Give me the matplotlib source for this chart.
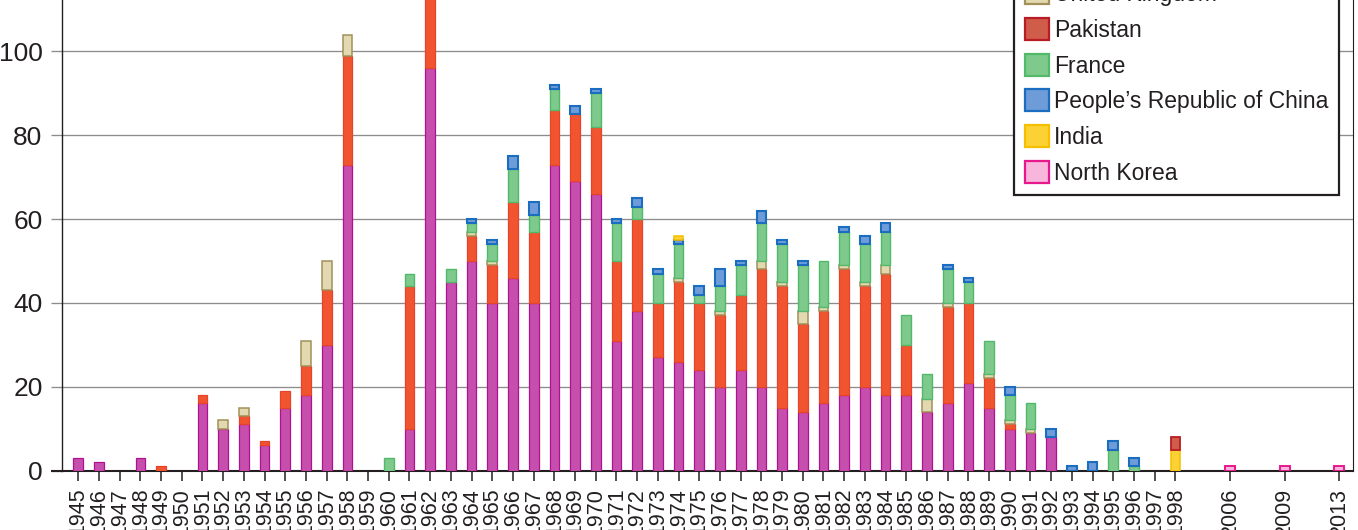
import matplotlib
matplotlib.use("Agg")
import matplotlib.pyplot as plt
from matplotlib.patches import Patch
import numpy as np

plt.rcParams['font.family'] = ['Liberation Sans', 'DejaVu Sans']

# ---- data -------------------------------------------------------------
years = list(range(1945, 1999)) + [2006, 2009, 2013]

usa = [3, 2, 0, 3, 0, 0, 16, 10, 11, 6, 15, 18, 30, 73, 0, 0, 10, 96, 45, 50,
       40, 46, 40, 73, 69, 66, 31, 38, 27, 26, 24, 20, 24, 20, 15, 14, 16, 18, 20, 18,
       18, 14, 16, 21, 15, 10, 9, 8, 0, 0, 0, 0, 0, 0, 0, 0, 0]
ussr = [0, 0, 0, 0, 1, 0, 2, 0, 2, 1, 4, 7, 13, 26, 0, 0, 34, 79, 0, 6,
        9, 18, 17, 13, 16, 16, 19, 22, 13, 19, 16, 17, 18, 28, 29, 21, 22, 30, 24, 29,
        12, 0, 23, 19, 7, 1, 0, 0, 0, 0, 0, 0, 0, 0, 0, 0, 0]
uk = [0, 0, 0, 0, 0, 0, 0, 2, 2, 0, 0, 6, 7, 5, 0, 0, 0, 2, 0, 1,
      1, 0, 0, 0, 0, 0, 0, 0, 0, 1, 0, 1, 0, 2, 1, 3, 1, 1, 1, 2,
      0, 3, 1, 0, 1, 1, 1, 0, 0, 0, 0, 0, 0, 0, 0, 0, 0]
france = [0, 0, 0, 0, 0, 0, 0, 0, 0, 0, 0, 0, 0, 0, 0, 3, 3, 0, 3, 2,
          4, 8, 4, 5, 0, 8, 9, 3, 7, 8, 2, 6, 7, 9, 9, 11, 11, 8, 9, 8,
          7, 6, 8, 5, 8, 6, 6, 0, 0, 0, 5, 1, 0, 0, 0, 0, 0]
china = [0, 0, 0, 0, 0, 0, 0, 0, 0, 0, 0, 0, 0, 0, 0, 0, 0, 0, 0, 1,
         1, 3, 3, 1, 2, 1, 1, 2, 1, 1, 2, 4, 1, 3, 1, 1, 0, 1, 2, 2,
         0, 0, 1, 1, 0, 2, 0, 2, 1, 2, 2, 2, 0, 0, 0, 0, 0]
india = [0] * 29 + [1] + [0] * 23 + [5, 0, 0, 0]
pakistan = [0] * 53 + [3, 0, 0, 0]
north_korea = [0] * 54 + [1, 1, 1]

# ---- styles -----------------------------------------------------------
stack_order = [
    ("United States", usa, "#c64fad", "#b0128f", 0.9),
    ("Soviet Union", ussr, "#f0552f", "#e8432a", 0.9),
    ("United Kingdom", uk, "#e2d9b0", "#a2915a", 1.1),
    ("France", france, "#7dca8c", "#52b86a", 1.0),
    ("People\u2019s Republic of China", china, "#6d9cd9", "#1a6dbf", 1.5),
    ("India", india, "#fcd133", "#f5bf00", 1.1),
    ("Pakistan", pakistan, "#d05c4a", "#b81c24", 1.3),
    ("North Korea", north_korea, "#f8b6dd", "#e8188c", 1.4),
]
legend_order = ["United States", "Soviet Union", "United Kingdom", "Pakistan",
                "France", "People\u2019s Republic of China", "India", "North Korea"]

# x positions: consecutive years, then wider gaps for the last three
gap_step = 2.64
positions = []
for i, y in enumerate(years):
    if y <= 1998:
        positions.append(float(y - 1945))
    else:
        positions.append(53 + gap_step * (i - 53))
positions = np.array(positions)

W, H = 1358, 530
fig = plt.figure(figsize=(W / 100, H / 100), dpi=100)
px_per_unit = 4.19
ytop = 125
ax = fig.add_axes([62 / W, 59.5 / H, 1291 / W, ytop * px_per_unit / H])

bottom = np.zeros(len(years))
handles = {}
for name, vals, fc, ec, lw in stack_order:
    v = np.array(vals, dtype=float)
    mask = v > 0
    ax.bar(positions[mask], v[mask], width=0.47, bottom=bottom[mask],
           color=fc, edgecolor=ec, linewidth=lw, zorder=3)
    bottom += v
    handles[name] = Patch(facecolor=fc, edgecolor=ec, linewidth=1.6)

ax.set_xlim(-0.787, 61.58)
ax.set_ylim(0, ytop)
ax.set_axisbelow(True)
ax.yaxis.grid(True, color="#8c8c8c", linewidth=0.95)
ax.xaxis.grid(False)

ax.set_yticks(np.arange(0, 121, 20))
ax.tick_params(axis="y", length=8, width=0.95, color="#8c8c8c", pad=6,
               labelsize=19, labelcolor="#231f20")
ax.set_xticks(positions)
ax.set_xticklabels([str(y) for y in years], rotation=90, va="top", ha="center")
ax.tick_params(axis="x", length=7.5, width=1.1, color="#231f20", pad=5,
               labelsize=15.5, labelcolor="#231f20")

for s in ["left", "bottom", "right", "top"]:
    ax.spines[s].set_color("#231f20")
ax.spines["left"].set_linewidth(1.0)
ax.spines["bottom"].set_linewidth(1.5)
ax.spines["right"].set_linewidth(0.8)
ax.spines["top"].set_linewidth(0.8)
ax.plot([-11 / 1291, 0], [0, 0], transform=ax.transAxes, color="#231f20",
        lw=1.5, clip_on=False, solid_capstyle="butt")

leg = ax.legend([handles[n] for n in legend_order], legend_order,
                loc="lower right", bbox_to_anchor=(1339 / W, 1 - 195 / H),
                bbox_transform=fig.transFigure, borderaxespad=0,
                fontsize=16.5, handlelength=1.04, handleheight=1.1,
                handletextpad=0.25, labelspacing=0.52, borderpad=0.45,
                fancybox=False, framealpha=1, edgecolor="#231f20")
leg.get_frame().set_linewidth(1.6)
for t in leg.get_texts():
    t.set_color("#231f20")

fig.savefig("out.png", dpi=100)
